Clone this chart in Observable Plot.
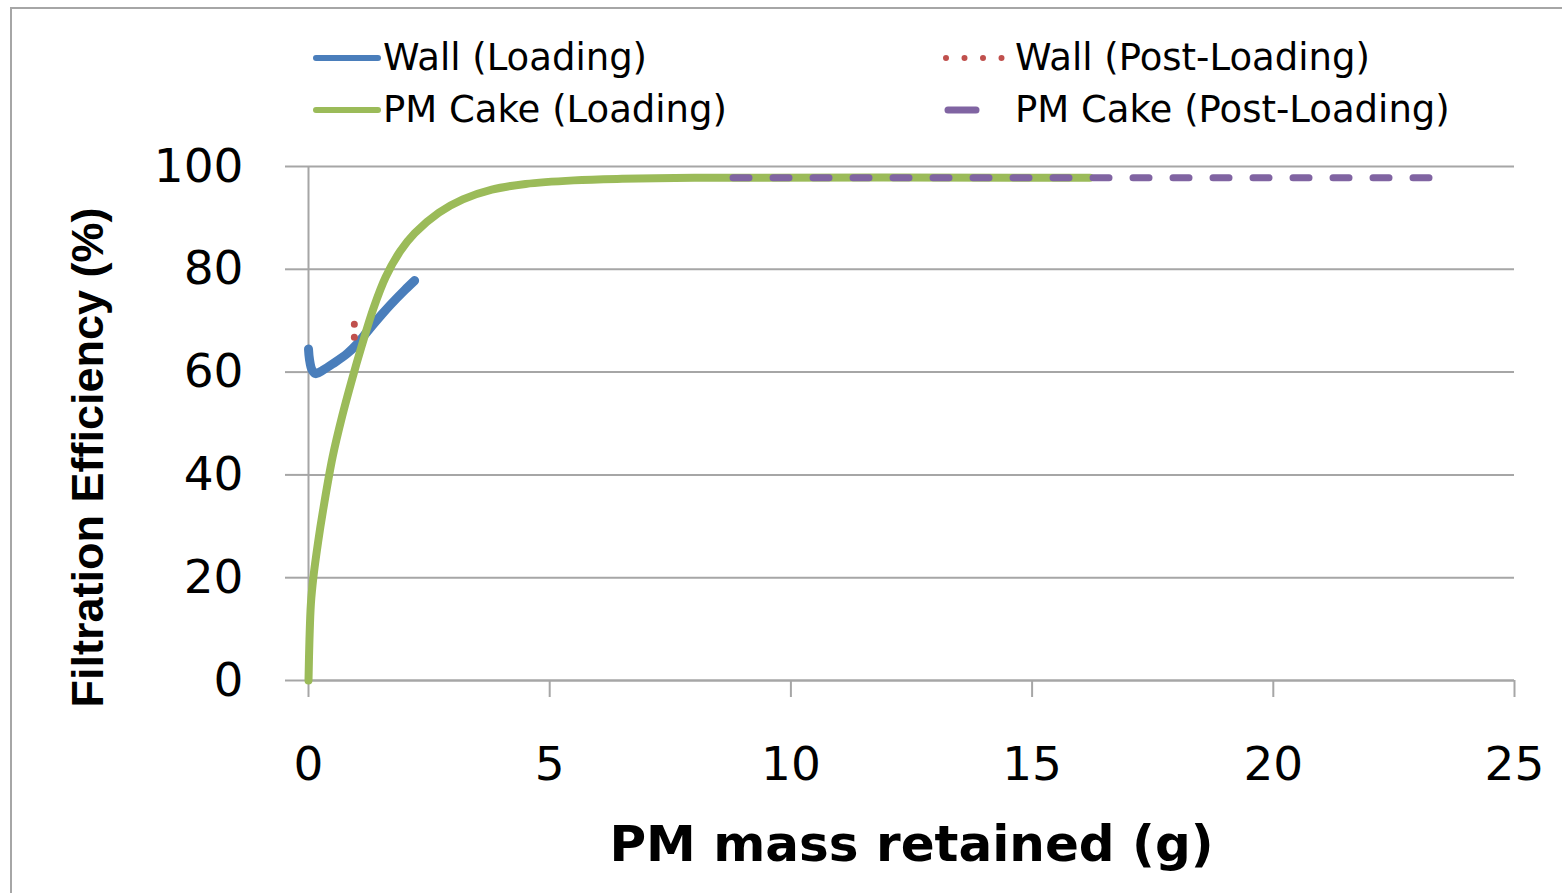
<!DOCTYPE html>
<html>
<head>
<meta charset="utf-8">
<script src="https://cdn.jsdelivr.net/npm/d3@7"></script>
<script src="https://cdn.jsdelivr.net/npm/@observablehq/plot@0.6"></script>
<style>
  html, body { margin: 0; padding: 0; background: #fff; }
  body { width: 1562px; height: 893px; position: relative; overflow: hidden; font-family: "DejaVu Sans", sans-serif; }
  #frame { position: absolute; left: 10px; top: 7px; width: 1700px; height: 1000px; border-left: 2px solid #a6a6a6; border-top: 2px solid #a6a6a6; box-sizing: border-box; }
  #chart { position: absolute; left: 0; top: 0; }
  .leg { position: absolute; height: 40px; line-height: 40px; font-size: 37px; color: #000; white-space: nowrap; }
  .leg svg { position: absolute; top: 0; }
  .leg span { position: absolute; top: 0; }
</style>
</head>
<body>
<div id="frame"></div>
<div id="chart"></div>
<div id="legend"></div>
<script>
// ---- data ----
const wallLoadingX = [0, 0.02, 0.07, 0.15, 0.3, 0.5, 0.8, 1.0, 1.22, 1.5, 1.7, 2.0, 2.2];
const wallLoadingY = [64.5, 62.5, 60.5, 59.7, 60.4, 61.6, 63.6, 65.4, 67.9, 71.0, 73.1, 76.0, 77.8];

const wallPostX = [0.95, 0.95];
const wallPostY = [69.3, 66.7];

const cakeLoadingX = [0, 0.02, 0.05, 0.1, 0.2, 0.3, 0.5, 0.7, 0.9, 1.1, 1.35, 1.6, 1.9, 2.2, 2.7, 3.2, 3.8, 4.5, 5.5, 6.5, 8, 16.2];
const cakeLoadingY = [0, 8, 15, 20, 27, 33, 43.5, 51.5, 58.5, 65, 72.5, 78.5, 83.5, 87, 91, 93.6, 95.5, 96.6, 97.3, 97.6, 97.8, 97.8];

const cakePostX = [8.8, 23.4];
const cakePostY = [97.8, 97.8];

const xTicks = [0, 5, 10, 15, 20, 25];
const yTicks = [0, 20, 40, 60, 80, 100];

const seriesNames = ["Wall (Loading)", "Wall (Post-Loading)", "PM Cake (Loading)", "PM Cake (Post-Loading)"];
const colors = ["#4a7ebb", "#c0504d", "#9bbb59", "#8064a2"];

const xLabel = "PM mass retained (g)";
const yLabel = "Filtration Efficiency (%)";

const toRows = (xs, ys) => xs.map((x, i) => ({x, y: ys[i]}));
const wallL = toRows(wallLoadingX, wallLoadingY);
const wallP = toRows(wallPostX, wallPostY);
const cakeL = toRows(cakeLoadingX, cakeLoadingY);
const cakeP = toRows(cakePostX, cakePostY);

const grid = "#a6a6a6";

const plot = Plot.plot({
  width: 1562,
  height: 893,
  marginLeft: 308,
  marginRight: 48,
  marginTop: 166,
  marginBottom: 213,
  style: { background: "transparent", fontFamily: "DejaVu Sans, sans-serif", color: "#000" },
  x: { domain: [0, 25] },
  y: { domain: [0, 100] },
  marks: [
    Plot.gridY(yTicks, { stroke: grid, strokeOpacity: 1, strokeWidth: 2 }),
    Plot.axisY(yTicks, { tickSize: 23, tickPadding: 42, stroke: grid, strokeWidth: 2, fontSize: 47, label: null, tickFormat: d => String(d) }),
    Plot.axisX(xTicks, { tickSize: 17, tickPadding: 49, stroke: grid, strokeWidth: 2, fontSize: 47, label: null, tickFormat: d => String(d) }),
    Plot.ruleX([0], { stroke: grid, strokeWidth: 2 }),
    Plot.ruleY([0], { stroke: grid, strokeWidth: 2 }),
    Plot.line(wallL, { x: "x", y: "y", stroke: colors[0], strokeWidth: 9, strokeLinecap: "round", strokeLinejoin: "round", curve: "catmull-rom" }),
    Plot.line(wallP, { x: "x", y: "y", stroke: colors[1], strokeWidth: 7, strokeLinecap: "round", strokeDasharray: "0 13" }),
    Plot.line(cakeL, { x: "x", y: "y", stroke: colors[2], strokeWidth: 8, strokeLinecap: "round", strokeLinejoin: "round", curve: "catmull-rom" }),
    Plot.line(cakeP, { x: "x", y: "y", stroke: colors[3], strokeWidth: 7, strokeLinecap: "round", strokeDasharray: "16 24" }),
    Plot.text([xLabel], { frameAnchor: "bottom", dy: 180, fontSize: 50, fontWeight: "bold", fill: "#000" }),
    Plot.text([yLabel], { frameAnchor: "left", textAnchor: "middle", dx: -220, dy: 34, rotate: -90, fontSize: 45, fontWeight: "bold", fill: "#000", fontFamily: "Liberation Sans" })
  ]
});
document.getElementById("chart").appendChild(plot);

// ---- legend (HTML) ----
const legendItems = [
  { name: seriesNames[0], color: colors[0], left: 312, top: 38, swW: 70, kind: "solid", textX: 71 },
  { name: seriesNames[1], color: colors[1], left: 942, top: 38, swW: 64, kind: "dot", textX: 73 },
  { name: seriesNames[2], color: colors[2], left: 312, top: 90, swW: 70, kind: "solid", textX: 71 },
  { name: seriesNames[3], color: colors[3], left: 942, top: 90, swW: 64, kind: "dash", textX: 73 }
];
const leg = document.getElementById("legend");
for (const it of legendItems) {
  const d = document.createElement("div");
  d.className = "leg";
  d.style.left = it.left + "px";
  d.style.top = it.top + "px";
  let line;
  if (it.kind === "solid") line = `<line x1="4" y1="20" x2="${it.swW - 4}" y2="20" stroke="${it.color}" stroke-width="6" stroke-linecap="round"/>`;
  else if (it.kind === "dot") line = `<line x1="4" y1="20" x2="60" y2="20" stroke="${it.color}" stroke-width="6" stroke-linecap="round" stroke-dasharray="0 18.5"/>`;
  else line = `<line x1="6" y1="20" x2="34" y2="20" stroke="${it.color}" stroke-width="7" stroke-linecap="round"/>`;
  d.innerHTML = `<svg width="${it.swW + 4}" height="40">${line}</svg><span style="left:${it.textX}px">${it.name}</span>`;
  leg.appendChild(d);
}
</script>
</body>
</html>
